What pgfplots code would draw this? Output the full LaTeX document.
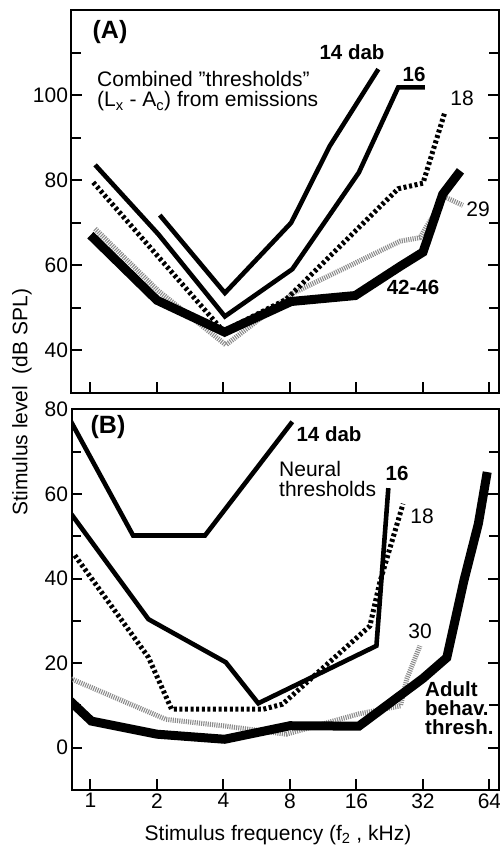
\documentclass[border=0pt]{standalone}
\usepackage{fontspec}
\setmainfont{Liberation Sans}
\usepackage{pgfplots}
\pgfplotsset{compat=1.18}
\newcommand{\fs}{\fontsize{21}{21}\selectfont}
\newcommand{\fb}{\fontsize{20.5}{20}\selectfont\bfseries}
\tikzset{
  solidl/.style={black, line width=4.6pt, line join=miter},
  dott/.style={black, line width=5pt, dash pattern=on 3pt off 2.6pt},
  stip/.style={black!45, line width=5pt, dash pattern=on 1.1pt off 1.1pt},
  heavy/.style={black, line width=9pt, line join=miter},
}
\begin{document}
\begin{tikzpicture}
\path[use as bounding box] (0pt,0pt) rectangle (500pt,848pt);
% ---------------- Panel A
\begin{axis}[scale only axis, width=427pt, height=383pt,
    at={(71.5pt,455pt)}, anchor=south west,
    xmode=log, log basis x=2,
    xmin=0.821, xmax=70.3,
    xtick={1,2,4,8,16,32,64}, xticklabels={},
    axis line style={line width=2pt},
    tick style={line width=2pt, black},
    tick align=inside,
    xtick pos=left, ytick pos=both, yticklabel pos=left,
    major tick length=11pt, minor tick length=10pt,
    ticklabel style={font=\fs},
    ymin=30, ymax=120, ytick={40,60,80,100}, yticklabels={40,60,80,100},
    minor ytick={50,70,90,110}]
\addplot[stip] coordinates {(1.05,68.6) (2.03,54) (4.1,41.3) (8.3,53.5) (25.3,65.7) (31,66.5) (40,76.1) (48.5,74.1)};
\addplot[heavy] coordinates {(1.0,67.1) (2.0,51.8) (4.05,44.3) (8.1,51.5) (15.8,52.9) (25.3,59.8) (32,63.1) (39.3,76.7) (47.3,82.2)};
\addplot[dott] coordinates {(1.03,79.5) (4.0,44.5) (7.7,52) (24.7,78) (32,79.3) (40.2,96)};
\addplot[solidl] coordinates {(1.05,83.6) (2.03,67.3) (4.06,48.0) (8.2,59.1) (16.4,81.8) (24.7,101.8) (32.6,101.8)};
\addplot[solidl] coordinates {(2.06,71.8) (4.06,53.5) (8.1,70.0) (12.1,88) (20.1,106.1)};
\end{axis}
% ---------------- Panel B
\begin{axis}[scale only axis, width=427pt, height=380.5pt,
    at={(71.5pt,58pt)}, anchor=south west,
    xmode=log, log basis x=2,
    xmin=0.821, xmax=70.3,
    xtick={1,2,4,8,16,32,64}, xticklabels={1,2,4,8,16,32,64},
    axis line style={line width=2pt},
    tick style={line width=2pt, black},
    tick align=inside,
    xtick pos=left, ytick pos=both, yticklabel pos=left,
    major tick length=11pt, minor tick length=10pt,
    ticklabel style={font=\fs},
    ymin=-10, ymax=80, ytick={0,20,40,60,80}, yticklabels={0,20,40,60,80},
    minor ytick={10,30,50,70}]
\addplot[stip] coordinates {(0.8,16.5) (2.2,6.7) (4.1,5.1) (7.7,3.2) (16.4,8) (25.3,9.9) (27,16.2) (31,24.1)};
\addplot[heavy] coordinates {(0.8,11.3) (1.01,6.3) (2.0,3.2) (4.05,2.0) (8.0,5.2) (16.4,5.1) (32,16.4) (41,21.3) (49,39.5) (57,53) (62.5,65.2)};
\addplot[dott] coordinates {(0.85,45.5) (1.83,21.4) (2.33,9.1) (6.05,9.1) (7.4,10.3) (18.4,28.8) (20.4,39.1) (26,57.7)};
\addplot[solidl] coordinates {(0.8,56) (1.83,30.4) (4.1,20.2) (5.75,10.5) (19.7,24.1) (22.3,61.4)};
\addplot[solidl] coordinates {(0.8,78) (1.56,50.2) (3.3,50.2) (8.2,77.1)};
\end{axis}
% ---------------- Texts
\node[font=\fs] at (278pt,13pt) {Stimulus frequency (f\textsubscript{2} , kHz)};
\node[font=\fs, rotate=90] at (22pt,446pt) {Stimulus level\ \ (dB SPL)};
% panel A
\node[font=\fontsize{25}{25}\selectfont\bfseries] at (110pt,816pt) {(A)};
\node[font=\fb] at (352pt,796pt) {14 dab};
\node[font=\fb] at (414pt,774pt) {16};
\node[font=\fs] at (462pt,750pt) {18};
\node[font=\fs] at (478pt,639pt) {29};
\node[font=\fb] at (413pt,561pt) {42-46};
\node[font=\fs, anchor=base west, inner sep=0pt] at (97pt,761pt) {Combined \symbol{34}thresholds\symbol{34}};
\node[font=\fs, anchor=base west, inner sep=0pt] at (97pt,741pt) {(L\textsubscript{x} - A\textsubscript{c}) from emissions};
% panel B
\node[font=\fontsize{25}{25}\selectfont\bfseries] at (108pt,421pt) {(B)};
\node[font=\fb] at (329pt,413.5pt) {14 dab};
\node[font=\fs, anchor=base west, inner sep=0pt] at (279pt,371pt) {Neural};
\node[font=\fs, anchor=base west, inner sep=0pt] at (279pt,351pt) {thresholds};
\node[font=\fb] at (397pt,374.5pt) {16};
\node[font=\fs] at (422pt,332pt) {18};
\node[font=\fs] at (420pt,217pt) {30};
\node[font=\fb, anchor=base west, inner sep=0pt] at (425pt,151pt) {Adult};
\node[font=\fb, anchor=base west, inner sep=0pt] at (425pt,132pt) {behav.};
\node[font=\fb, anchor=base west, inner sep=0pt] at (425pt,113pt) {thresh.};
\end{tikzpicture}
\end{document}
